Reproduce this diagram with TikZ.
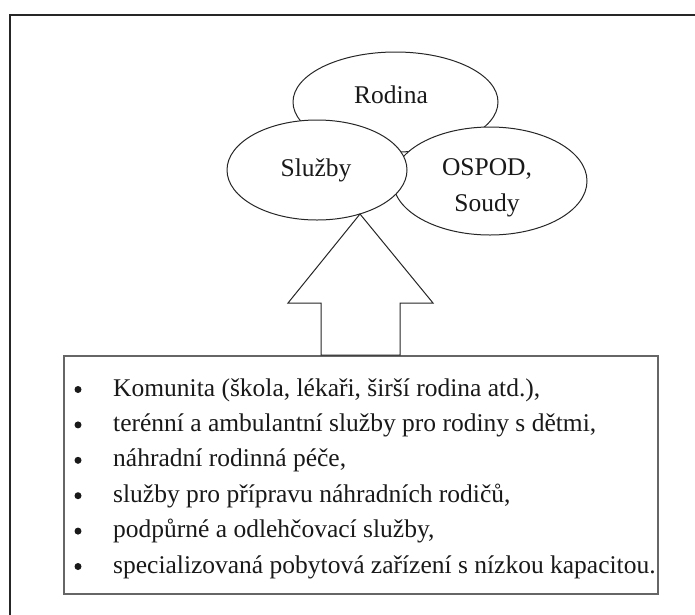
\documentclass[tikz,border=0pt]{standalone}
\usepackage{fontspec}
\setmainfont{Liberation Serif}
\usetikzlibrary{shapes.geometric}
\begin{document}
\begin{tikzpicture}[x=1pt,y=-1pt,
  ell/.style={ellipse, draw=black!85, line width=1pt, fill=white, inner sep=0pt},
  lbl/.style={inner sep=0pt, font=\fontsize{25.5}{30}\selectfont, text=black!90},
  bul/.style={circle, fill=black!90, inner sep=0pt, minimum size=7pt},
  itm/.style={inner sep=0pt, anchor=base west, font=\fontsize{25.5}{30}\selectfont, text=black!90},
  frame/.style={draw=black!85, line width=1.8pt},
  listbox/.style={draw=black!60, line width=1.6pt, fill=white, inner sep=0pt, anchor=north west}
]
\useasboundingbox (0,0) rectangle (695,614);
\clip (0,0) rectangle (695,614);
% outer frame (cut off at right and bottom)
\draw[frame] (10,640) -- (10,15) -- (720,15);
% ellipses
\node[ell, minimum width=205, minimum height=100] (rodina) at (395.5,102) {};
\node[ell, minimum width=194, minimum height=108] (ospod) at (490,181) {};
\node[ell, minimum width=180, minimum height=100] (sluzby) at (317,170) {};
\node[lbl] (trodina) at (391,95) {Rodina};
\node[lbl, anchor=base] (tsluzby) at (316,176.5) {Služby};
\node[lbl, anchor=base] (tospod) at (487,175.5) {OSPOD,};
\node[lbl, anchor=base] (tsoudy) at (487,211.5) {Soudy};
% list box
\node[listbox, minimum width=594, minimum height=238] (box) at (63,355) {};
% block arrow from box to Služby
\coordinate (tip) at (360,214);
\draw[draw=black!85, line width=1pt, fill=white]
  (tip) -- (433,303) -- (400,303) -- (box.north -| 400,0) -- (box.north -| 321,0)
  -- (321,303) -- (288,303) -- cycle;
% items
\foreach \t [count=\i] in {%
  {Komunita (škola, lékaři, širší rodina atd.),},
  {terénní a ambulantní služby pro rodiny s dětmi,},
  {náhradní rodinná péče,},
  {služby pro přípravu náhradních rodičů,},
  {podpůrné a odlehčovací služby,},
  {specializovaná pobytová zařízení s nízkou kapacitou.}}{
  \pgfmathsetmacro{\yy}{396+35.4*(\i-1)}
  \pgfmathsetmacro{\by}{\yy-6.5}
  \node[bul] (b\i) at (78,\by) {};
  \node[itm] (l\i) at (113,\yy) {\t};
}
\end{tikzpicture}
\end{document}
